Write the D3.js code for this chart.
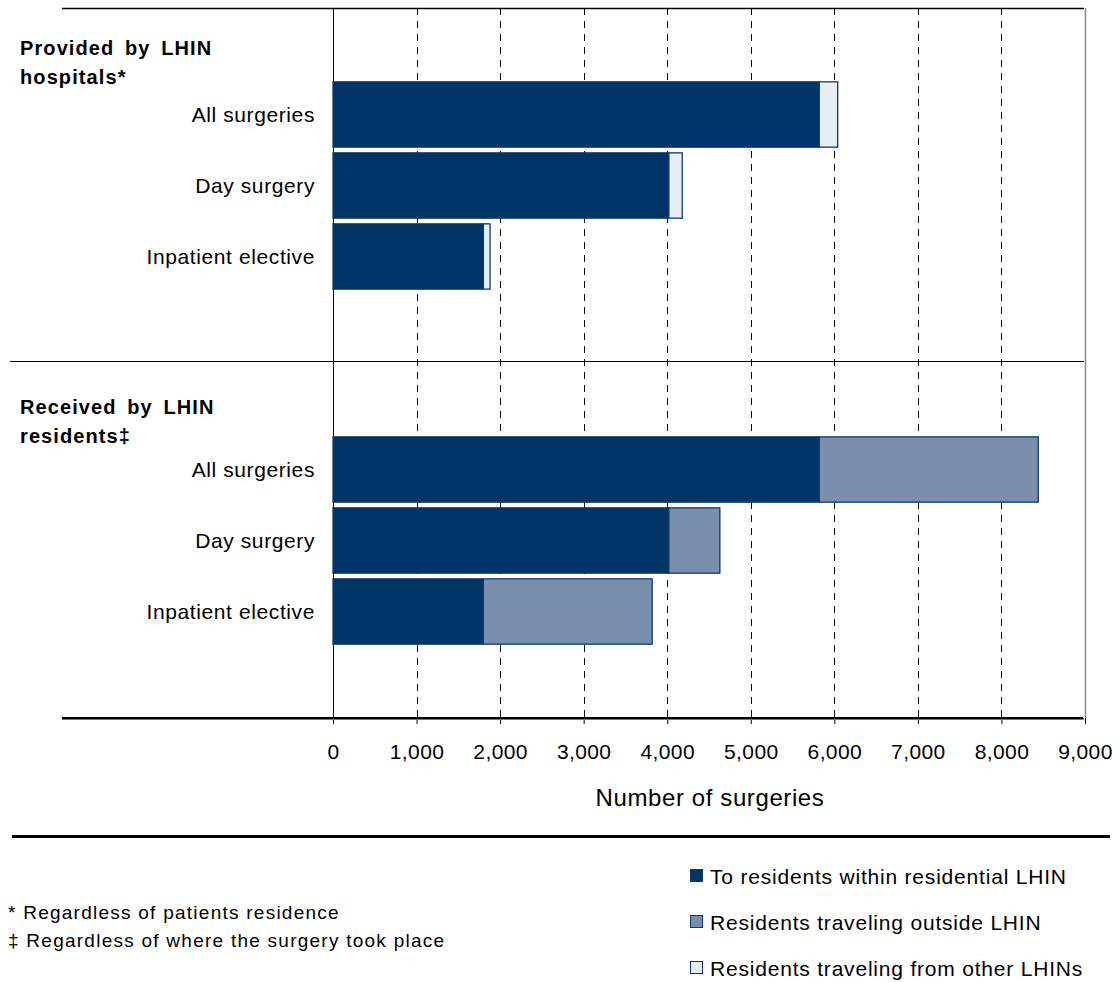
<!DOCTYPE html>
<html>
<head>
<meta charset="utf-8">
<script src="https://cdn.jsdelivr.net/npm/d3@7"></script>
<style>
  body { margin: 0; background: #fff; }
  text { font-family: "Liberation Sans", Arial, sans-serif; fill: #000; }
</style>
</head>
<body>
<div id="chart"></div>
<script>
// data
const sections = ["Provided by LHIN hospitals*", "Received by LHIN residents\u2021"]
const sectionLines = [["Provided by LHIN", "hospitals*"], ["Received by LHIN", "residents\u2021"]]
const categories = ["All surgeries", "Day surgery", "Inpatient elective"]
const withinLHIN = [5820, 4020, 1800]           // same in both sections
const fromOtherLHINs = [220, 160, 80]          // provided section
const travelingOutside = [2620, 610, 2020]     // received section
const xTicks = [0, 1000, 2000, 3000, 4000, 5000, 6000, 7000, 8000, 9000]
const legendLabels = ["To residents within residential LHIN", "Residents traveling outside LHIN", "Residents traveling from other LHINs"]
const footnotes = ["* Regardless of patients residence", "\u2021 Regardless of where the surgery took place"]

const colors = ["#003366", "#7a8fad", "#e6eef2"]
const strokeCol = "#0f3a66"

let width = 1119, height = 982

let svg = d3.select("#chart").append("svg")
    .attr("width", width)
    .attr("height", height)

// scales
let x = d3.scaleLinear().domain([0, 9000]).range([333, 1085])

// 10 slots: header, 3 bars, blank per section
let slots = []
sections.forEach((s, si) => {
    slots.push("h" + si)
    categories.forEach(c => slots.push(si + "|" + c))
    slots.push("b" + si)
})
let y = d3.scaleBand().domain(slots).range([8, 718]).paddingInner(0.08).paddingOuter(0.04)

// stacked rows
let rows = []
categories.forEach((c, i) => {
    rows.push({ key: "0|" + c, segs: [[0, withinLHIN[i], 0], [withinLHIN[i], withinLHIN[i] + fromOtherLHINs[i], 2]] })
    rows.push({ key: "1|" + c, segs: [[0, withinLHIN[i], 0], [withinLHIN[i], withinLHIN[i] + travelingOutside[i], 1]] })
})

// gridlines
svg.append("g").selectAll("line")
    .data(xTicks.slice(1, -1))
    .enter().append("line")
    .attr("x1", d => Math.round(x(d)) + 0.5)
    .attr("x2", d => Math.round(x(d)) + 0.5)
    .attr("y1", 8)
    .attr("y2", 718)
    .style("stroke", "#000")
    .style("stroke-width", 1)
    .style("stroke-dasharray", "7,6")

// frame lines
svg.append("line").attr("x1", 62).attr("x2", 1084).attr("y1", 8.5).attr("y2", 8.5)
    .style("stroke", "#000").style("stroke-width", 1.5)
svg.append("line").attr("x1", 1085.5).attr("x2", 1085.5).attr("y1", 8).attr("y2", 718)
    .style("stroke", "#888").style("stroke-width", 1.5)
svg.append("line").attr("x1", 10).attr("x2", 1084).attr("y1", 361.5).attr("y2", 361.5)
    .style("stroke", "#000").style("stroke-width", 1)
svg.append("line").attr("x1", x(0) + 0.5).attr("x2", x(0) + 0.5).attr("y1", 8).attr("y2", 718)
    .style("stroke", "#000").style("stroke-width", 1)

// bars
let rowG = svg.selectAll(".row")
    .data(rows)
    .enter().append("g")
    .attr("class", "row")
    .attr("transform", d => `translate(0,${y(d.key)})`)

rowG.selectAll("rect")
    .data(d => d.segs)
    .enter().append("rect")
    .attr("x", d => x(d[0]))
    .attr("y", 0)
    .attr("width", d => x(d[1]) - x(d[0]))
    .attr("height", y.bandwidth())
    .style("fill", d => colors[d[2]])
    .style("stroke", strokeCol)
    .style("stroke-width", 1.3)

// category labels
svg.selectAll(".cat")
    .data(rows)
    .enter().append("text")
    .attr("class", "cat")
    .attr("x", 315)
    .attr("y", d => y(d.key) + y.bandwidth() / 2 + 7)
    .attr("text-anchor", "end")
    .style("font-size", "21px")
    .style("letter-spacing", "0.6px")
    .text(d => d.key.split("|")[1])

// section headers
const headerOffset = [47, 53]
sectionLines.forEach((lines, si) => {
    let top = si ? 361 : 8
    lines.forEach((l, li) => {
        svg.append("text")
            .attr("x", 20)
            .attr("y", top + headerOffset[si] + li * 29)
            .style("font-size", "20px")
            .style("font-weight", "bold")
            .style("letter-spacing", "1.1px")
            .style("word-spacing", "4px")
            .text(l)
    })
})

// x axis
let xAxis = d3.axisBottom(x).tickValues(xTicks).tickSize(6).tickSizeOuter(0)
    .tickFormat(d3.format(","))
let ax = svg.append("g")
    .attr("transform", "translate(0,718)")
    .call(xAxis)
ax.select(".domain").remove()
ax.selectAll(".tick line").style("stroke", "#000")
ax.selectAll(".tick text")
    .attr("y", 26)
    .style("font-size", "21px")
    .style("letter-spacing", "0.4px")
    .style("font-family", "'Liberation Sans', Arial, sans-serif")
    .style("fill", "#000")

svg.append("line").attr("x1", 62).attr("x2", 1084).attr("y1", 719).attr("y2", 719)
    .style("stroke", "#777").style("stroke-width", 2)
svg.append("line").attr("x1", 62).attr("x2", 1083).attr("y1", 718).attr("y2", 718)
    .style("stroke", "#000").style("stroke-width", 2)

svg.append("text")
    .attr("x", 710)
    .attr("y", 806)
    .attr("text-anchor", "middle")
    .style("font-size", "24px")
    .style("letter-spacing", "0.6px")
    .text("Number of surgeries")

// separator
svg.append("line").attr("x1", 12).attr("x2", 1110).attr("y1", 836.5).attr("y2", 836.5)
    .style("stroke", "#000").style("stroke-width", 3)

// footnotes
svg.selectAll(".foot")
    .data(footnotes)
    .enter().append("text")
    .attr("class", "foot")
    .attr("x", 8)
    .attr("y", (d, i) => 919 + i * 28)
    .style("font-size", "19px")
    .style("letter-spacing", "1.25px")
    .text(d => d)

// legend
let leg = svg.selectAll(".leg")
    .data(legendLabels)
    .enter().append("g")
    .attr("class", "leg")
    .attr("transform", (d, i) => `translate(690,${876 + i * 46})`)
leg.append("rect")
    .attr("x", 0.5).attr("y", -6.5)
    .attr("width", 12).attr("height", 12)
    .style("fill", (d, i) => colors[i])
    .style("stroke", strokeCol)
    .style("stroke-width", 1)
leg.append("text")
    .attr("x", 20)
    .attr("y", 7.5)
    .style("font-size", "21px")
    .style("letter-spacing", "0.8px")
    .text(d => d)
</script>
</body>
</html>
